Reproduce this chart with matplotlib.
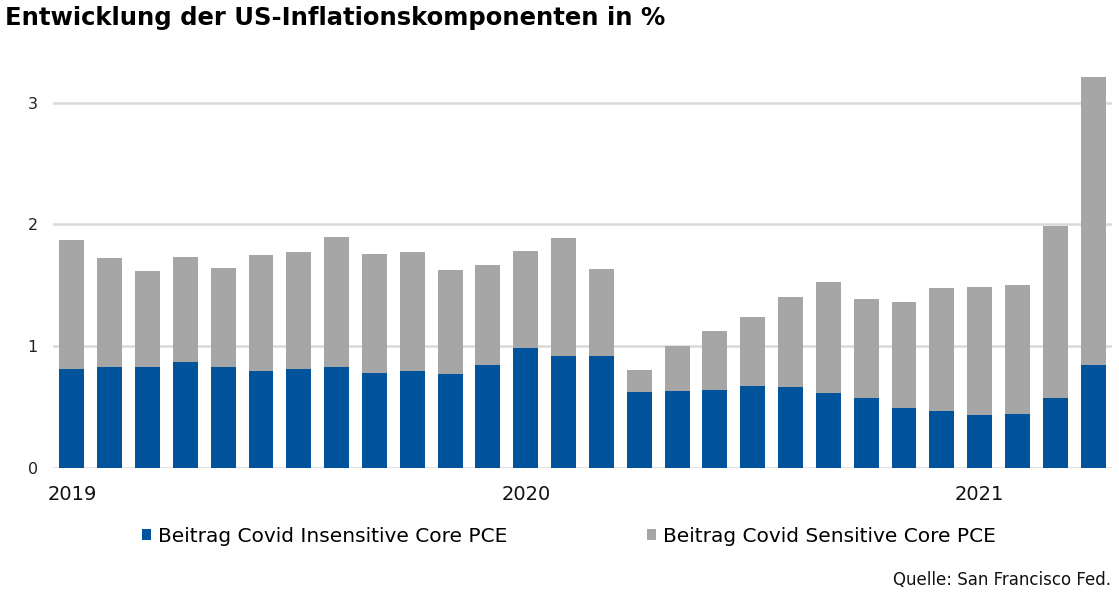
import matplotlib
matplotlib.use("Agg")
import matplotlib.pyplot as plt
from matplotlib.patches import Patch
import numpy as np

months = ["Jan 2019", "Feb 2019", "Mar 2019", "Apr 2019", "May 2019", "Jun 2019", "Jul 2019",
          "Aug 2019", "Sep 2019", "Oct 2019", "Nov 2019", "Dec 2019", "Jan 2020", "Feb 2020",
          "Mar 2020", "Apr 2020", "May 2020", "Jun 2020", "Jul 2020", "Aug 2020", "Sep 2020",
          "Oct 2020", "Nov 2020", "Dec 2020", "Jan 2021", "Feb 2021", "Mar 2021", "Apr 2021"]

insensitive = [0.815, 0.832, 0.832, 0.873, 0.832, 0.799, 0.815, 0.832, 0.782, 0.799, 0.774, 0.848,
               0.988, 0.922, 0.922, 0.627, 0.635, 0.643, 0.676, 0.668, 0.618, 0.577, 0.495, 0.471,
               0.438, 0.446, 0.577, 0.848]

total = [1.874, 1.726, 1.620, 1.735, 1.644, 1.751, 1.776, 1.899, 1.759, 1.776, 1.628, 1.669,
         1.784, 1.891, 1.636, 0.807, 1.004, 1.127, 1.242, 1.406, 1.529, 1.390, 1.365, 1.480,
         1.488, 1.505, 1.989, 3.212]

sensitive = [round(t - i, 3) for t, i in zip(total, insensitive)]

year_tick_pos = [0, 12, 24]
year_tick_labels = ["2019", "2020", "2021"]
y_ticks = [0, 1, 2, 3]

series_names = ["Beitrag Covid Insensitive Core PCE", "Beitrag Covid Sensitive Core PCE"]
blue = "#01539C"
gray = "#A6A6A6"

W, H = 1119, 599
fig = plt.figure(figsize=(W / 100, H / 100), dpi=100)
ax = fig.add_axes([53 / W, (H - 468) / H, (1112 - 53) / W, (468 - 60) / H])

x = np.arange(len(months))
ax.bar(x, insensitive, width=0.66, color=blue, zorder=3)
ax.bar(x, sensitive, bottom=insensitive, width=0.66, color=gray, zorder=3)

ax.set_xlim(-0.5, len(months) - 0.5)
ax.set_ylim(0, 3.35)
ax.set_yticks(y_ticks)
ax.set_yticklabels([str(v) for v in y_ticks], fontsize=11.5, color="#222222")
ax.set_xticks(year_tick_pos)
ax.set_xticklabels(year_tick_labels, fontsize=14, color="#111111")
ax.tick_params(axis="both", length=0)
ax.tick_params(axis="y", pad=11)
ax.tick_params(axis="x", pad=12)
ax.yaxis.grid(True, color="#D9D9D9", linewidth=1.8, zorder=0)
for s in ax.spines.values():
    s.set_visible(False)

fig.text(5 / W, 1 - 18 / H, "Entwicklung der US-Inflationskomponenten in %",
         fontsize=17.5, fontweight="bold", ha="left", va="center", color="#000000")

handles = [Patch(facecolor=blue, edgecolor="none"), Patch(facecolor=gray, edgecolor="none")]
fig.legend(handles, series_names, loc="center", bbox_to_anchor=(569 / W, 1 - 536 / H),
           ncol=2, frameon=False, fontsize=14.5, handlelength=0.45, handleheight=0.5,
           handletextpad=0.35, columnspacing=6.9, borderpad=0)

fig.text(1111 / W, 1 - 580 / H, "Quelle: San Francisco Fed.", fontsize=12,
         ha="right", va="center", color="#111111")

fig.savefig("out.png", dpi=100)
